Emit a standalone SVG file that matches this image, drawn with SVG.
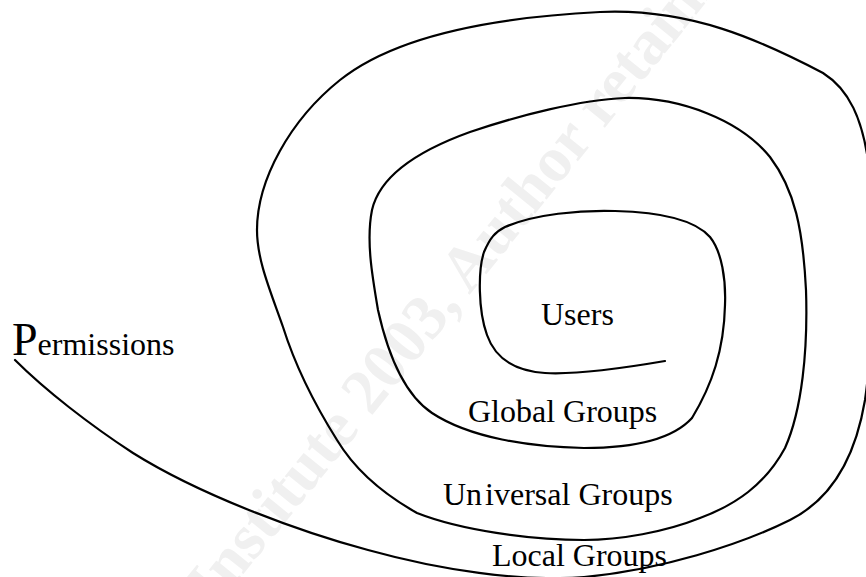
<svg xmlns="http://www.w3.org/2000/svg" width="866" height="577" viewBox="0 0 866 577">
<style>
.lbl{font-family:"Liberation Serif","Times New Roman",serif;font-size:32px;fill:#000}
.wm{font-family:"Liberation Serif","Times New Roman",serif;font-size:64px;font-weight:bold;fill:#f0f0f0}
.sp{fill:none;stroke:#000;stroke-width:2.2;stroke-linecap:round;stroke-linejoin:round}
</style>
<rect width="866" height="577" fill="#fff"/>
<text class="wm" transform="translate(62,798) rotate(-51)">© SANS Institute 2003, Author retains full rights</text>
<g id="connectors">
<path class="sp" d="M 665 361
C 630 367, 580 375, 545 373
C 515 371, 495 358, 487 335
C 478 310, 478 270, 484 252
C 490 238, 495 232, 505 227
C 535 214, 580 210, 615 211
C 660 212, 695 220, 710 237
C 722 252, 726 280, 725 305
C 724 350, 712 385, 692 418
C 672 440, 630 448, 584 448
C 530 447, 470 438, 432 413
C 405 395, 388 355, 378 310
C 372 275, 366 240, 372 210
C 380 175, 420 150, 470 132
C 520 115, 580 100, 625 98
C 680 97, 740 120, 770 157
C 795 190, 803 230, 806 290
C 808 350, 802 410, 785 448
C 765 485, 735 505, 700 518
C 665 532, 620 540, 584 540
C 530 540, 460 530, 417 513
C 385 495, 355 470, 337 440
C 315 405, 295 365, 283 327
C 270 290, 257 260, 257 230
C 257 180, 290 120, 340 80
C 390 40, 480 18, 600 12
C 690 8, 760 40, 823 73
C 850 90, 862 120, 868 160
C 875 220, 875 330, 865 400
C 855 460, 830 500, 790 520
C 740 545, 660 570, 584 577
C 520 582, 440 570, 368 550
C 300 532, 200 495, 133 453
C 90 425, 45 390, 15 360"/>
</g>
<g id="permissions"><text class="lbl" x="12" y="355"><tspan font-size="46">P</tspan>ermissions</text></g>
<g id="users"><text class="lbl" x="541" y="325" font-size="30">Users</text></g>
<g id="global"><text class="lbl" x="468" y="422">Global Groups</text></g>
<g id="universal"><text class="lbl" x="443" y="505">Un<tspan dx="3">iversal Groups</tspan></text></g>
<g id="local"><text class="lbl" x="492" y="566">Local Groups</text></g>
</svg>
